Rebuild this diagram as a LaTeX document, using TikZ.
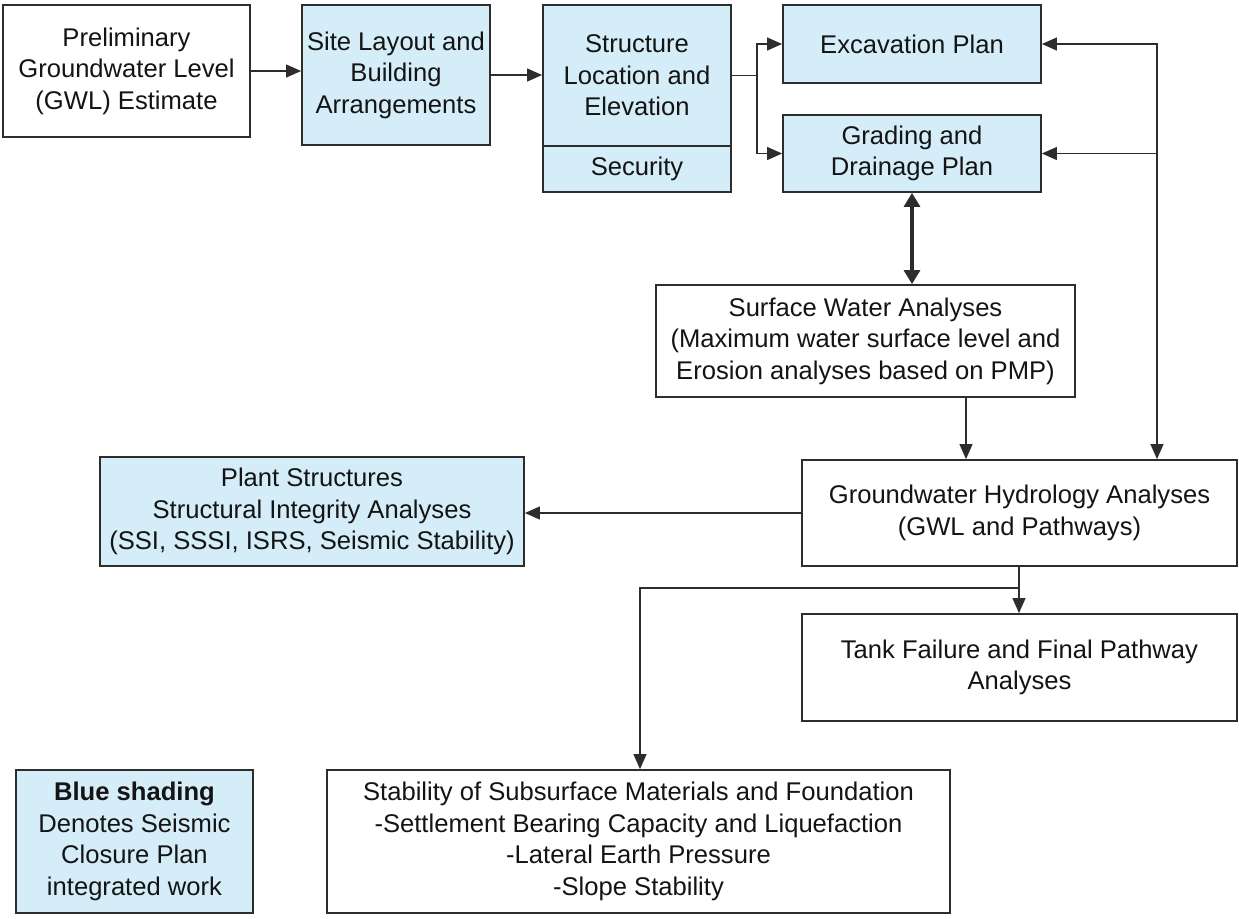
\documentclass[tikz,border=0pt]{standalone}
\usepackage{fontspec}
\setmainfont{Liberation Sans}
\usetikzlibrary{arrows.meta}

\begin{document}
\begin{tikzpicture}[x=0.5pt, y=-0.5pt, line width=0.6pt, >={Triangle[length=7.5pt,width=6.5pt]}]
	\definecolor{shade}{RGB}{213, 237, 248}
	\definecolor{ink}{RGB}{45, 45, 45}
	\tikzset{
		plainbox/.style={draw=ink, line width=0.9pt, fill=white, align=center, inner sep=0pt,
			text=black!92, font=\fontsize{12.8}{15.75}\selectfont},
		bluebox/.style={plainbox, fill=shade},
		link/.style={draw=ink, ->},
	}

	% \blk#name#x1#y1#x2#y2#style#text
	\def\blk#1#2#3#4#5#6#7{
		\node[#6, minimum width={(#4-#2)*0.5pt}, minimum height={(#5-#3)*0.5pt}] (#1)
			at ({(#2+#4)/2}, {(#3+#5)/2}) {#7};
	}

	\useasboundingbox (0, 0) rectangle (1239, 918);

	% top row
	\blk{prelim}{3}{5}{250}{137}{plainbox}{Preliminary\\Groundwater Level\\(GWL) Estimate}
	\blk{site}{302}{5}{490}{145}{bluebox}{Site Layout and\\Building\\Arrangements}
	\blk{struct}{543}{5}{731}{146}{bluebox}{Structure\\Location and\\Elevation}
	\blk{secur}{543}{146}{731}{192}{bluebox}{Security}
	\blk{excav}{783}{5}{1041}{83}{bluebox}{Excavation Plan}
	\blk{grade}{783}{115}{1041}{192}{bluebox}{Grading and\\Drainage Plan}

	% analyses
	\blk{surf}{656}{285}{1075}{397}{plainbox}{Surface Water Analyses\\(Maximum water surface level and\\Erosion analyses based on PMP)}
	\blk{gwh}{802}{460}{1237}{566}{plainbox}{Groundwater Hydrology Analyses\\(GWL and Pathways)}
	\blk{plant}{100}{457}{524}{566}{bluebox}{Plant Structures\\Structural Integrity Analyses\\(SSI, SSSI, ISRS, Seismic Stability)}
	\blk{tank}{802}{614}{1237}{721}{plainbox}{Tank Failure and Final Pathway\\Analyses}

	% bottom row
	\blk{legend}{16}{770}{253}{913}{bluebox}{\textbf{Blue shading}\\Denotes Seismic\\Closure Plan\\integrated work}
	\blk{stab}{327}{770}{950}{913}{plainbox}{Stability of Subsurface Materials and Foundation\\-Settlement Bearing Capacity and Liquefaction\\-Lateral Earth Pressure\\-Slope Stability}

	\coordinate (fork) at (757, 0);
	\coordinate (loop) at (1157, 0);
	\coordinate (drop) at (966, 0);
	\coordinate (split) at (1019, 588);
	\coordinate (bend) at (640, 588);

	% connectors
	\draw[link] (prelim.east) -- (prelim.east -| site.west);
	\draw[link] (site.east) -- (site.east -| struct.west);
	\draw[ink] (struct.east) -- (struct.east -| fork);
	\draw[link] (struct.east -| fork) |- (excav.west);
	\draw[link] (struct.east -| fork) |- (grade.west);
	\draw[ink, <->] (excav.east) -| (loop |- gwh.north);
	\draw[link] (grade.east -| loop) -- (grade.east);
	\draw[ink, <->, line width=1.6pt, >={Triangle[length=7pt,width=8pt]}] (grade.south) -- (grade.south |- surf.north);
	\draw[link] (surf.south -| drop) -- (gwh.north -| drop);
	\draw[link] (gwh.west) -- (gwh.west -| plant.east);
	\draw[ink] (gwh.south -| split) -- (split);
	\draw[link] (split) -- (tank.north -| split);
	\draw[link] (split) -- (bend) -- (bend |- stab.north);
\end{tikzpicture}
\end{document}
